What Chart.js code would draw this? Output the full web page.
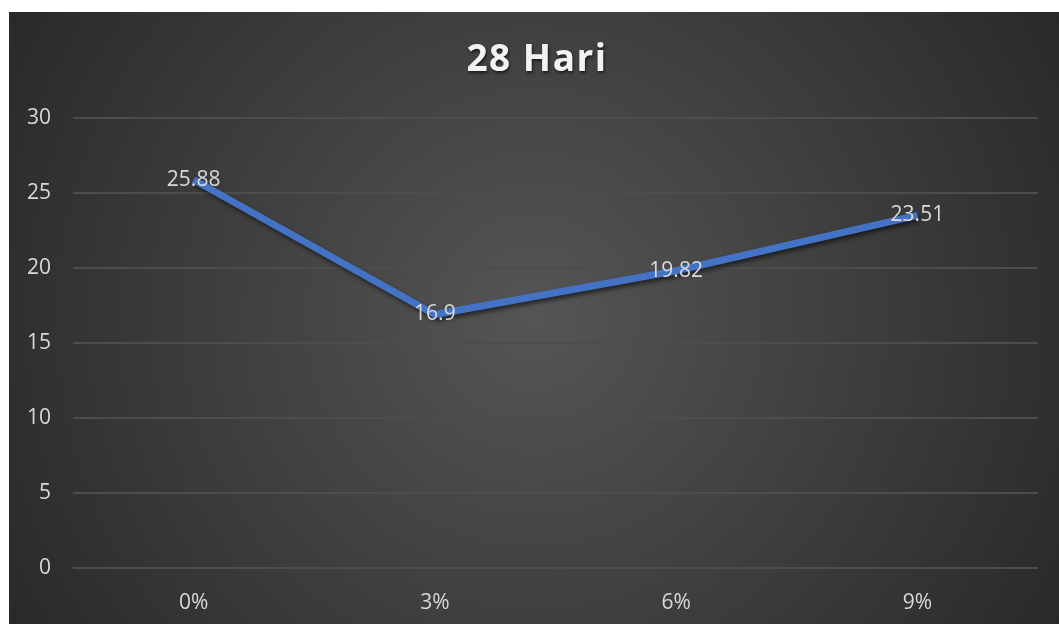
<!DOCTYPE html>
<html>
<head>
<meta charset="utf-8">
<script src="https://cdn.jsdelivr.net/npm/chart.js@4.4.1/dist/chart.umd.min.js"></script>
<style>
  html, body { margin: 0; padding: 0; background: #fff; }
  #wrap { position: absolute; left: 9px; top: 12px; width: 1050px; height: 612px; }
</style>
</head>
<body>
<div id="wrap"><canvas id="chart"></canvas></div>
<script>
const chartTitle = '28 Hari';
const kategori = ['0%', '3%', '6%', '9%'];
const nilai = [25.88, 16.9, 19.82, 23.51];
const yTicks = [0, 5, 10, 15, 20, 25, 30];

const fontName = "'Open Sans', 'Noto Sans', sans-serif";

// latar gelap dengan gradasi radial
const bgPlugin = {
    id: 'bg',
    beforeDraw(chart) {
        const ctx = chart.ctx;
        const w = chart.width, h = chart.height;
        const g = ctx.createRadialGradient(w / 2, h / 2, 0, w / 2, h / 2, w * 0.62);
        g.addColorStop(0, '#555555');
        g.addColorStop(1, '#262626');
        ctx.save();
        ctx.fillStyle = g;
        ctx.fillRect(0, 0, w, h);
        ctx.restore();
    }
};

// judul dengan jarak huruf dan bayangan
const titlePlugin = {
    id: 'judul',
    afterDraw(chart) {
        const ctx = chart.ctx;
        ctx.save();
        ctx.font = "bold 37px " + fontName;
        ctx.letterSpacing = '1.5px';
        ctx.textAlign = 'center';
        ctx.textBaseline = 'middle';
        ctx.shadowColor = 'rgba(0,0,0,0.6)';
        ctx.shadowOffsetX = 1;
        ctx.shadowOffsetY = 2;
        ctx.shadowBlur = 3;
        ctx.fillStyle = '#f2f2f2';
        ctx.fillText(chartTitle, chart.width / 2 + 3, 48);
        ctx.restore();
    }
};

// bayangan garis
const shadowPlugin = {
    id: 'bayangan',
    beforeDatasetDraw(chart) {
        const ctx = chart.ctx;
        ctx.save();
        ctx.shadowColor = 'rgba(0,0,0,0.55)';
        ctx.shadowOffsetX = 2;
        ctx.shadowOffsetY = 3;
        ctx.shadowBlur = 4;
    },
    afterDatasetDraw(chart) {
        chart.ctx.restore();
    }
};

// label data di tengah titik
const labelPlugin = {
    id: 'labelData',
    afterDatasetsDraw(chart) {
        const ctx = chart.ctx;
        const meta = chart.getDatasetMeta(0);
        ctx.save();
        ctx.font = "21px " + fontName;
        ctx.fillStyle = '#d9d9d9';
        ctx.textAlign = 'center';
        ctx.textBaseline = 'middle';
        meta.data.forEach((pt, i) => {
            ctx.fillText(String(nilai[i]), pt.x, pt.y);
        });
        ctx.restore();
    }
};

const ctx = document.getElementById('chart').getContext('2d');
const grafik = new Chart(ctx, {
    type: 'line',
    data: {
        labels: kategori,
        datasets: [{
            data: nilai,
            borderColor: '#4472C4',
            borderWidth: 7,
            pointRadius: 0,
            pointHoverRadius: 0,
            tension: 0,
            fill: false
        }]
    },
    options: {
        responsive: true,
        maintainAspectRatio: false,
        animation: false,
        layout: { padding: { top: 106, right: 21, bottom: 0, left: 0 } },
        plugins: {
            legend: { display: false },
            title: { display: false },
            tooltip: { enabled: false }
        },
        scales: {
            x: {
                offset: true,
                grid: { display: false },
                border: { display: false },
                ticks: {
                    color: '#d9d9d9',
                    font: { family: fontName, size: 21 },
                    padding: 14
                },
                afterFit(scale) { scale.height = 56; }
            },
            y: {
                min: 0,
                max: 30,
                afterBuildTicks(scale) { scale.ticks = yTicks.map(v => ({ value: v })); },
                grid: { color: '#4d4d4d', lineWidth: 2, drawTicks: false },
                border: { display: false },
                ticks: {
                    color: '#d9d9d9',
                    font: { family: fontName, size: 21 },
                    padding: 22
                },
                afterFit(scale) { scale.width = 64; }
            }
        }
    },
    plugins: [bgPlugin, shadowPlugin, labelPlugin, titlePlugin]
});
</script>
</body>
</html>
